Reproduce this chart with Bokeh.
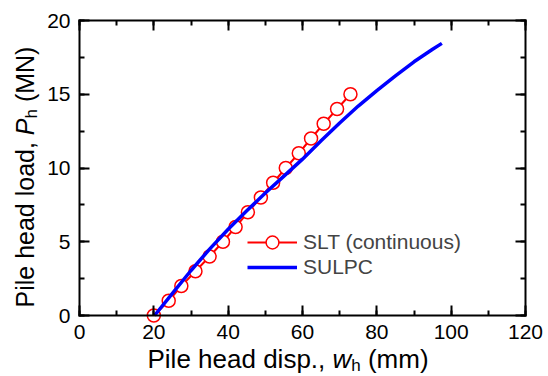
import math
from bokeh.plotting import figure
from bokeh.models import (LinearAxis, SingleIntervalTicker, Range1d, Legend, LegendItem, Label,
                          CustomLabelingPolicy)
from bokeh.embed import file_html
from bokeh.resources import INLINE

# ---- data ----
slt_disp = [20.0, 24.0, 27.4, 31.2, 35.0, 38.6, 42.0, 45.3, 48.8, 52.1, 55.5, 59.0, 62.3, 65.7, 69.3, 72.9]
slt_load = [0, 1, 2, 3, 4, 5, 6, 7, 8, 9, 10, 11, 12, 13, 14, 15]

sulpc_disp = [20.2, 25, 30, 35, 40, 45, 50, 55, 60, 65, 70, 75, 80, 85, 90, 95, 97.5]
sulpc_load = [0, 1.5, 3.05, 4.5, 5.85, 7.1, 8.3, 9.45, 10.6, 11.85, 13.05, 14.2, 15.25, 16.25, 17.2, 18.05, 18.45]

x_axis = (0, 120)
y_axis = (0, 20)
series_names = ["SLT (continuous)", "SULPC"]

FONT = "Liberation Sans"
W_PX, H_PX = 548, 376
# plot box in canvas pixels (left, right, top, bottom)
BL, BR, BT, BB = 79, 525, 20, 315

sx = (BR - BL) / (x_axis[1] - x_axis[0])
sy = (BB - BT) / (y_axis[1] - y_axis[0])
xr = Range1d(x_axis[0] - BL / sx, x_axis[1] + (W_PX - BR) / sx)
yr = Range1d(y_axis[0] - (H_PX - BB) / sy, y_axis[1] + BT / sy)

p = figure(width=W_PX, height=H_PX, output_backend="svg", toolbar_location=None,
           x_range=xr, y_range=yr, x_axis_type=None, y_axis_type=None,
           min_border=0, min_border_left=0, min_border_right=0, min_border_top=0,
           min_border_bottom=0)
p.grid.visible = False
p.outline_line_color = None
p.background_fill_color = "white"
p.border_fill_color = "white"

xt = SingleIntervalTicker(interval=20, num_minor_ticks=2)
yt = SingleIntervalTicker(interval=5, num_minor_ticks=2)

no_labels = CustomLabelingPolicy(code="""
const ids = Array.from(indices)
for (const i of ids) indices.unset(i)
return indices
""")

def make_axis(ticker, bounds, loc, labels=True):
    ax = LinearAxis(ticker=ticker, bounds=bounds, fixed_location=loc)
    ax.axis_line_color = "black"
    ax.axis_line_width = 2
    ax.axis_line_cap = "square"
    ax.major_tick_in = 10
    ax.major_tick_out = 0
    ax.minor_tick_in = 5
    ax.minor_tick_out = 0
    ax.major_tick_line_width = 2
    ax.minor_tick_line_width = 2
    ax.major_tick_line_color = "black"
    ax.minor_tick_line_color = "black"
    if labels:
        ax.major_label_text_font = FONT
        ax.major_label_text_font_size = "21px"
        ax.major_label_text_color = "black"
        ax.major_label_standoff = 9
    else:
        ax.major_label_policy = no_labels
        ax.major_label_standoff = 0
    return ax

p.add_layout(make_axis(xt, x_axis, y_axis[0]), "below")
p.add_layout(make_axis(yt, y_axis, x_axis[0]), "left")
p.add_layout(make_axis(xt, x_axis, y_axis[1], False), "above")
p.add_layout(make_axis(yt, y_axis, x_axis[1], False), "right")

r_line = p.line(slt_disp, slt_load, line_color="#ff0000", line_width=2)
r_pts = p.scatter(slt_disp, slt_load, marker="circle", size=13, line_color="#ff0000",
                  line_width=1.5, fill_color="white")
b_line = p.line(sulpc_disp, sulpc_load, line_color="#0000ff", line_width=3.5)

def make_legend(item, center_y):
    GH = 32
    return Legend(items=[item], location=(247, H_PX - (center_y + GH / 2)),
                  orientation="vertical", label_text_font=FONT, label_text_font_size="21px",
                  glyph_width=50, glyph_height=GH, label_height=20, label_standoff=6,
                  spacing=0, padding=0, margin=0,
                  background_fill_alpha=0, border_line_color=None)

p.add_layout(make_legend(LegendItem(label=series_names[0], renderers=[r_line, r_pts]), 241.7), "center")
p.add_layout(make_legend(LegendItem(label=series_names[1], renderers=[b_line]), 267.3), "center")

# ---- axis titles with italic symbol and subscript ----
W = {' ': 278, '(': 333, ')': 333, ',': 278, '.': 278, 'P': 667, 'i': 222, 'l': 222, 'e': 556,
     'h': 556, 'a': 556, 'd': 556, 's': 500, 'p': 556, 'o': 556, 'm': 833, 'M': 833, 'N': 722, 'w': 722}

def tw(s, size):
    return sum(W[c] for c in s) * size / 1000.0

SS = 17   # subscript size
SUB = 4   # subscript drop
ADJ = 0.3 # empirical baseline correction (fraction of font size)

def add_title(parts, x0, y0, vertical):
    # x0, y0: canvas pixels (from the top-left) of the start of the baseline
    pos = 0.0
    for text, size, italic, sub in parts:
        if text.strip():
            drop = (SUB if sub else 0) - ADJ * size
            if vertical:
                cx, cy = x0 + drop, y0 - pos
                ang = math.pi / 2
            else:
                cx, cy = x0 + pos, y0 + drop
                ang = 0
            p.add_layout(Label(x=cx, y=H_PX - cy, x_units="screen", y_units="screen", text=text,
                               angle=ang, text_font=FONT, text_font_size=f"{size}px",
                               text_font_style="italic" if italic else "normal",
                               text_align="left", text_baseline="alphabetic",
                               text_color="black"))
        pos += tw(text, size)

XT, YT = 26, 25
x_parts = [("Pile head disp.,", XT, False, False), (" ", XT, False, False), ("w", XT, True, False),
           ("h", SS, False, True), (" ", XT, False, False), ("(mm)", XT, False, False)]
y_parts = [("Pile head load,", YT, False, False), (" ", YT, False, False), ("P", YT, True, False),
           ("h", SS, False, True), (" ", YT, False, False), ("(MN)", YT, False, False)]

add_title(x_parts, 147, 366, False)
add_title(y_parts, 32, 307, True)

open("out.html", "w").write(file_html(p, INLINE))
